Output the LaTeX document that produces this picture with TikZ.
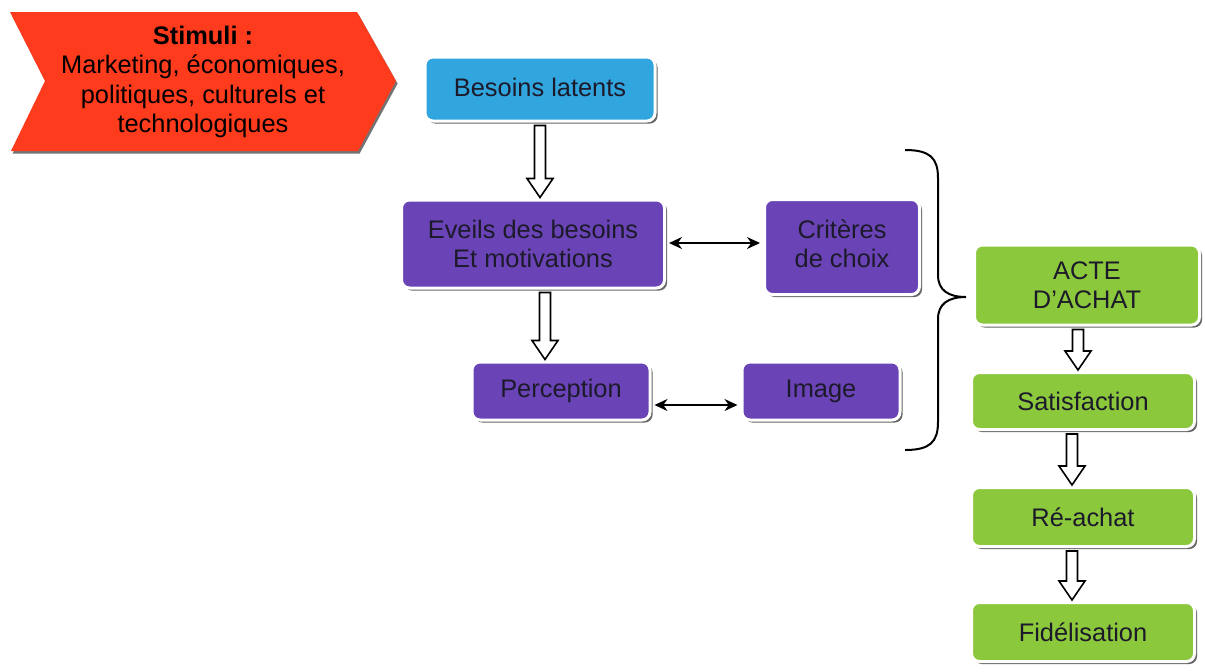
\documentclass[tikz,border=0pt]{standalone}
\usepackage{fontspec}
\setmainfont{Liberation Sans}
\usetikzlibrary{shadows,calc,arrows.meta}
\definecolor{cblue}{HTML}{31A5DD}
\definecolor{cpurple}{HTML}{6A44B6}
\definecolor{cgreen}{HTML}{8CC83C}
\definecolor{cred}{HTML}{FF3B1E}
\definecolor{ctext}{HTML}{1C1A2A}
\newcommand\harrow[3][0pt]{%
  \draw[hollow] let \p1=([xshift=#1]#2.south), \p2=(#3.north) in
    (\x1-2.75pt,\y1-1.5pt) -- (\x1+2.75pt,\y1-1.5pt) -- (\x1+2.75pt,\y2+10pt)
    -- (\x1+6.5pt,\y2+10pt) -- (\x1,\y2+0.5pt) -- (\x1-6.5pt,\y2+10pt)
    -- (\x1-2.75pt,\y2+10pt) -- cycle;}
\begin{document}
\begin{tikzpicture}[x=0.5pt,y=-0.5pt,
  font=\fontsize{12.7}{14.6}\selectfont,
  box/.style={rounded corners=4pt, draw=white, line width=1.5pt, text=ctext,
    align=center, inner sep=0pt,
    drop shadow={shadow xshift=1.3pt, shadow yshift=-1.3pt, fill=black!60, opacity=1}},
  hollow/.style={draw=black, line width=0.8pt, fill=white, line join=miter},
  dbl/.style={line width=0.9pt, {Stealth[length=6.5pt,width=6pt]}-{Stealth[length=6.5pt,width=6pt]}}]
\useasboundingbox (0,0) rectangle (1205,671);
\fill[white] (0,0) rectangle (1205,671);

% Stimuli chevron
\fill[cred, drop shadow={shadow xshift=0.8pt, shadow yshift=-1.3pt, fill=black!55, opacity=1}]
  (10,12) -- (357,12) -- (396,81) -- (358,151) -- (11,151) -- (45,81) -- cycle;
\node[align=center, text=black] (stim) at (203,82)
  {\textbf{Stimuli :}\\Marketing, économiques,\\politiques, culturels et\\technologiques};

% boxes
\node[box, fill=cblue, minimum width=115pt, minimum height=32pt] (bes) at (540,89) {\raisebox{2pt}{Besoins latents}};
\node[box, fill=cpurple, minimum width=131.5pt, minimum height=44pt] (eve) at (533,244) {Eveils des besoins\\Et motivations};
\node[box, fill=cpurple, minimum width=77.5pt, minimum height=47.5pt] (cri) at (842,247) {\raisebox{2pt}{\begin{tabular}{@{}c@{}}Critères\\de choix\end{tabular}}};
\node[box, fill=cpurple, minimum width=89pt, minimum height=29pt] (per) at (561,391) {Perception};
\node[box, fill=cpurple, minimum width=79pt, minimum height=29pt] (img) at (821,391) {Image};
\node[box, fill=cgreen, minimum width=112.5pt, minimum height=40pt] (act) at (1087,285) {ACTE\\D'ACHAT};
\node[box, fill=cgreen, minimum width=111.5pt, minimum height=28.5pt] (sat) at (1083,401) {Satisfaction};
\node[box, fill=cgreen, minimum width=111.5pt, minimum height=29.5pt] (rea) at (1083,517) {Ré-achat};
\node[box, fill=cgreen, minimum width=111.5pt, minimum height=29.5pt] (fid) at (1083,632) {Fidélisation};

% hollow arrows
\harrow{bes}{eve}
\harrow[6pt]{eve}{per}
\harrow[-4.5pt]{act}{sat}
\harrow[-5.5pt]{sat}{rea}
\harrow[-5.5pt]{rea}{fid}

% double arrows
\draw[dbl] ([xshift=1.5pt,yshift=0.5pt]eve.east) -- ([xshift=-1.5pt,yshift=0.5pt]eve.east -| cri.west);
\draw[dbl] ([xshift=1.5pt,yshift=-7pt]per.east) -- ([xshift=-1.5pt,yshift=-7pt]per.east -| img.west);

% brace
\draw[line width=1pt] (905,150) .. controls (930,150) and (938,158) .. (938,178)
  -- (938,275) .. controls (938,290) and (948,297) .. (966,297)
  .. controls (948,297) and (938,304) .. (938,319)
  -- (938,422) .. controls (938,442) and (930,450) .. (905,450);
\end{tikzpicture}
\end{document}
